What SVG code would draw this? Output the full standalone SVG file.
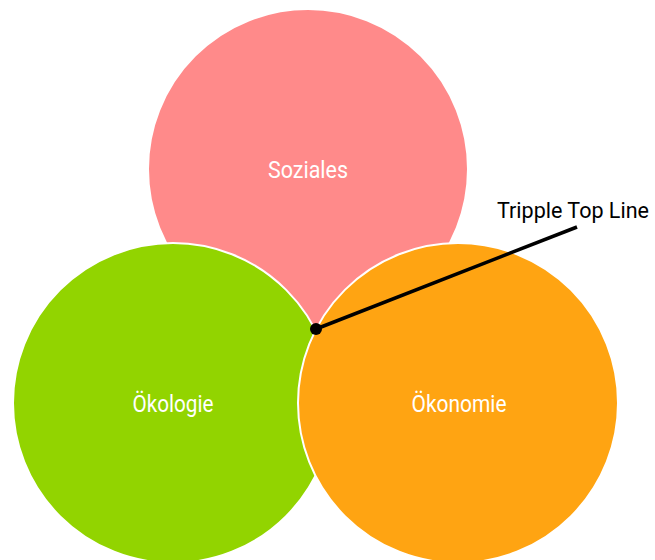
<svg xmlns="http://www.w3.org/2000/svg" width="655" height="560" viewBox="0 0 655 560">
<style>
.c{stroke:#fff;stroke-width:2}
.t{font-family:Roboto,"Liberation Sans",sans-serif;fill:#fff;font-size:23px;text-anchor:middle}
</style>
<rect width="655" height="560" fill="#fff"/>
<g id="soziales"><circle class="c" cx="308" cy="169" r="160" fill="#FF8A8A"/><text class="t" x="308" y="178" textLength="80" lengthAdjust="spacingAndGlyphs">Soziales</text></g>
<g id="oekologie"><circle class="c" cx="173" cy="403" r="160" fill="#92D400"/><text class="t" x="173" y="412" textLength="81" lengthAdjust="spacingAndGlyphs">Ökologie</text></g>
<g id="oekonomie"><circle class="c" cx="458" cy="403" r="160" fill="#FFA412"/><text class="t" x="459" y="412" textLength="95" lengthAdjust="spacingAndGlyphs">Ökonomie</text></g>
<g id="connectors"><line x1="316" y1="329" x2="577" y2="227" stroke="#000" stroke-width="3.5"/><circle cx="316" cy="329" r="6" fill="#000"/></g>
<g id="label"><text x="497" y="218" font-family="Roboto,'Liberation Sans',sans-serif" font-size="22" fill="#000" textLength="152" lengthAdjust="spacingAndGlyphs">Tripple Top Line</text></g>
</svg>
